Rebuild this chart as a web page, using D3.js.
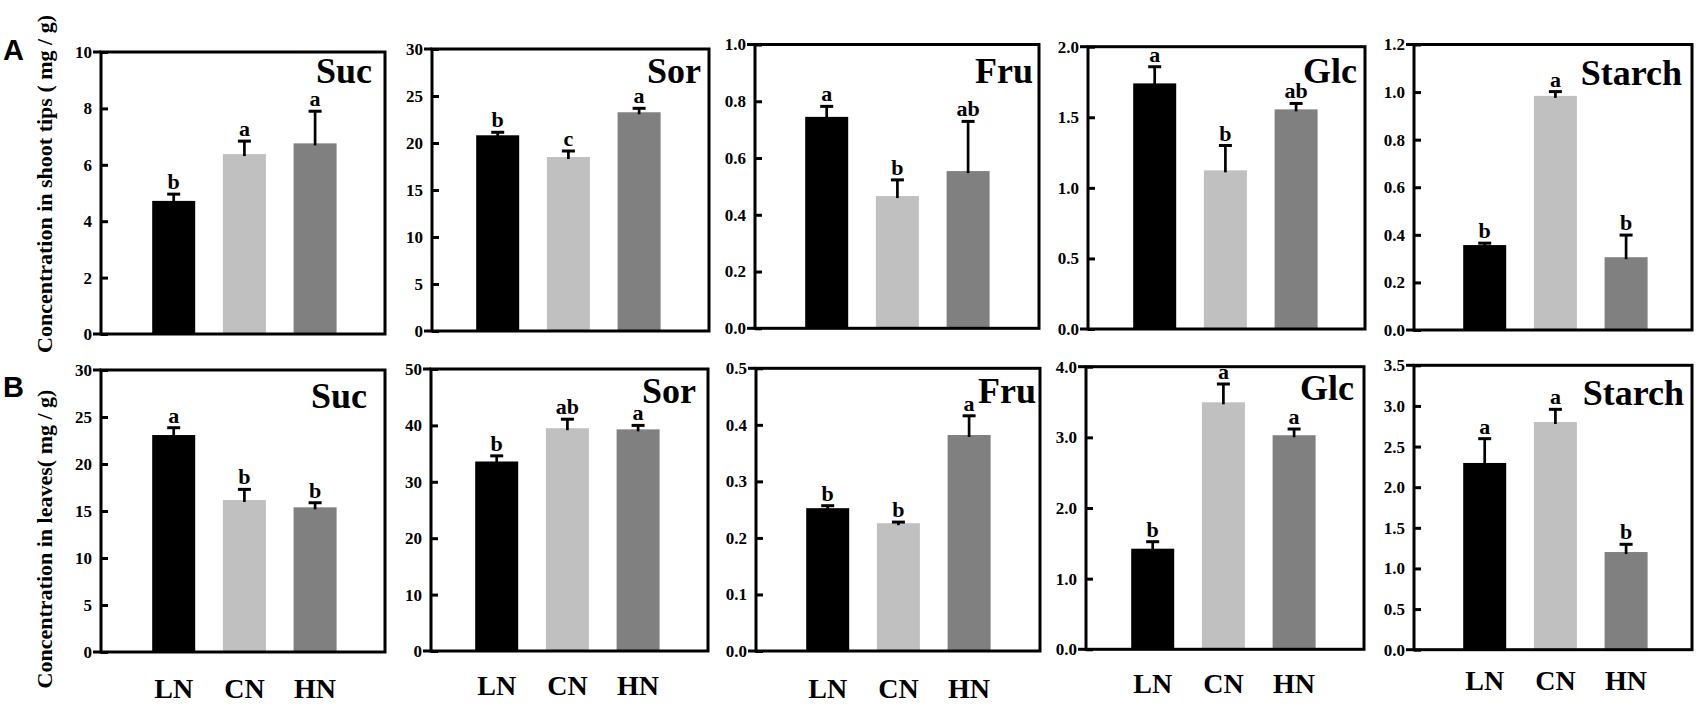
<!DOCTYPE html>
<html><head><meta charset="utf-8">
<script src="https://cdn.jsdelivr.net/npm/d3@7"></script>
<style>
body{margin:0;background:#fff;}
svg text{font-family:"Liberation Serif","Times New Roman",serif;font-weight:bold;fill:#000;}
</style>
</head><body>
<svg id="c" width="1701" height="707"></svg>
<script>
// ---------------- data ----------------
const categories = ["LN", "CN", "HN"];
const sugars = ["Suc", "Sor", "Fru", "Glc", "Starch"];
const rowLabels = ["A", "B"];
const yTitles = ["Concentration in shoot tips ( mg / g)", "Concentration in leaves( mg / g)"];

// shoot tips (row A)
const shootMeans = [[4.72, 6.38, 6.76], [20.82, 18.51, 23.27], [0.745, 0.466, 0.554], [1.74, 1.124, 1.556], [0.357, 0.984, 0.306]];
const shootErrors = [[0.24, 0.46, 1.14], [0.32, 0.64, 0.42], [0.037, 0.057, 0.175], [0.118, 0.176, 0.042], [0.008, 0.018, 0.093]];
const shootLetters = [["b", "a", "a"], ["b", "c", "a"], ["a", "b", "ab"], ["a", "b", "ab"], ["b", "a", "b"]];
const shootTicks = [[0, 2, 4, 6, 8, 10], [0, 5, 10, 15, 20, 25, 30], [0, 0.2, 0.4, 0.6, 0.8, 1.0], [0, 0.5, 1.0, 1.5, 2.0], [0, 0.2, 0.4, 0.6, 0.8, 1.0, 1.2]];
const shootTickDecimals = [0, 0, 1, 1, 1];

// leaves (row B)
const leafMeans = [[23.08, 16.17, 15.39], [33.6, 39.5, 39.3], [0.2526, 0.226, 0.382], [1.424, 3.496, 3.03], [2.298, 2.802, 1.202]];
const leafErrors = [[0.78, 1.13, 0.49], [1.0, 1.6, 0.7], [0.0044, 0.002, 0.034], [0.099, 0.259, 0.088], [0.299, 0.156, 0.095]];
const leafLetters = [["a", "b", "b"], ["b", "ab", "a"], ["b", "b", "a"], ["b", "a", "a"], ["a", "a", "b"]];
const leafTicks = [[0, 5, 10, 15, 20, 25, 30], [0, 10, 20, 30, 40, 50], [0, 0.1, 0.2, 0.3, 0.4, 0.5], [0, 1.0, 2.0, 3.0, 4.0], [0, 0.5, 1.0, 1.5, 2.0, 2.5, 3.0, 3.5]];
const leafTickDecimals = [0, 0, 1, 1, 1];

const barColors = ["#000000", "#c0c0c0", "#808080"];

// ---------------- layout ----------------
const layout = [
  { frames: [[101, 385, 52, 334], [432, 709, 49, 331], [755, 1039, 44.5, 328.3], [1088, 1365, 46.7, 329], [1414, 1692, 44.5, 330]],
    titles: [[372, 83], [701, 83], [1033, 83], [1357, 83], [1682, 85]],
    rowLabelY: 60, yTitleY: 184 },
  { frames: [[101, 385, 370, 652], [431, 708, 369, 651], [756, 1040, 368.3, 651], [1086, 1364, 366.7, 649.3], [1414, 1692, 365.3, 649.7]],
    titles: [[367, 408], [696, 403], [1036, 403], [1354, 400], [1684, 405]],
    xLabelBase: [698, 695, 698, 693, 690],
    rowLabelY: 397, yTitleY: 539 }
];
const xShift = [2, -5, 1, -4, 0];
const barWidth = 43, capHalf = 6.5;

const svg = d3.select("#c");
const rows = [
  { means: shootMeans, errs: shootErrors, letters: shootLetters, ticks: shootTicks, dec: shootTickDecimals },
  { means: leafMeans, errs: leafErrors, letters: leafLetters, ticks: leafTicks, dec: leafTickDecimals }
];

rows.forEach((row, r) => {
  const L = layout[r];
  sugars.forEach((sugar, p) => {
    const [l, rgt, t, b] = L.frames[p];
    const g = svg.append("g");
    const ticks = row.ticks[p];
    const y = d3.scaleLinear().domain([0, d3.max(ticks)]).range([b, t]);
    const x = d3.scaleLinear().domain([0, 4]).range([l + xShift[p], l + xShift[p] + 282.8]);

    // bars
    g.selectAll("rect.bar").data(categories).join("rect")
      .attr("x", (d, i) => x(i + 1) - barWidth / 2)
      .attr("y", (d, i) => y(row.means[p][i]))
      .attr("width", barWidth)
      .attr("height", (d, i) => y(0) - y(row.means[p][i]))
      .attr("fill", (d, i) => barColors[i]);

    // error bars (upper only)
    categories.forEach((c, i) => {
      const cx = x(i + 1), m = row.means[p][i], e = row.errs[p][i];
      g.append("line").attr("x1", cx).attr("x2", cx).attr("y1", y(m) + 2).attr("y2", y(m + e))
        .attr("stroke", "#000").attr("stroke-width", 2.7);
      g.append("line").attr("x1", cx - capHalf).attr("x2", cx + capHalf).attr("y1", y(m + e)).attr("y2", y(m + e))
        .attr("stroke", "#000").attr("stroke-width", 3);
      g.append("text").attr("x", cx).attr("y", y(m + e) - 5)
        .attr("text-anchor", "middle").attr("font-size", 22).text(row.letters[p][i]);
    });

    // y axis
    const fmt = d3.format(row.dec[p] ? ".1f" : "d");
    const ax = g.append("g").attr("transform", `translate(${l},0)`)
      .call(d3.axisLeft(y).tickValues(ticks).tickSizeInner(-7).tickSizeOuter(0).tickPadding(9).tickFormat(fmt));
    ax.select(".domain").remove();
    ax.attr("font-family", null).attr("font-size", null);
    ax.selectAll(".tick line").attr("stroke", "#000").attr("stroke-width", 3);
    ax.selectAll(".tick text").attr("font-size", 17).attr("fill", "#000");

    // frame
    g.append("rect").attr("x", l).attr("y", t).attr("width", rgt - l).attr("height", b - t)
      .attr("fill", "none").attr("stroke", "#000").attr("stroke-width", 3);
    [t, b].forEach(yy => g.append("line").attr("x1", l - 8).attr("x2", l).attr("y1", yy).attr("y2", yy)
      .attr("stroke", "#000").attr("stroke-width", 3));

    // panel title
    g.append("text").attr("x", L.titles[p][0]).attr("y", L.titles[p][1])
      .attr("text-anchor", "end").attr("font-size", 36).text(sugar);

    // x category labels (bottom row only)
    if (L.xLabelBase) {
      categories.forEach((c, i) => {
        g.append("text").attr("x", x(i + 1)).attr("y", L.xLabelBase[p])
          .attr("text-anchor", "middle").attr("font-size", 28).text(c);
      });
    }
  });

  // row label
  svg.append("text").attr("x", 3).attr("y", L.rowLabelY)
    .style("font-family", "'Liberation Sans', Arial, sans-serif").attr("font-size", 29).text(rowLabels[r]);
  // y title
  svg.append("text").attr("transform", `translate(52,${L.yTitleY}) rotate(-90)`)
    .attr("text-anchor", "middle").attr("font-size", 22).text(yTitles[r]);
});
</script>
</body></html>
